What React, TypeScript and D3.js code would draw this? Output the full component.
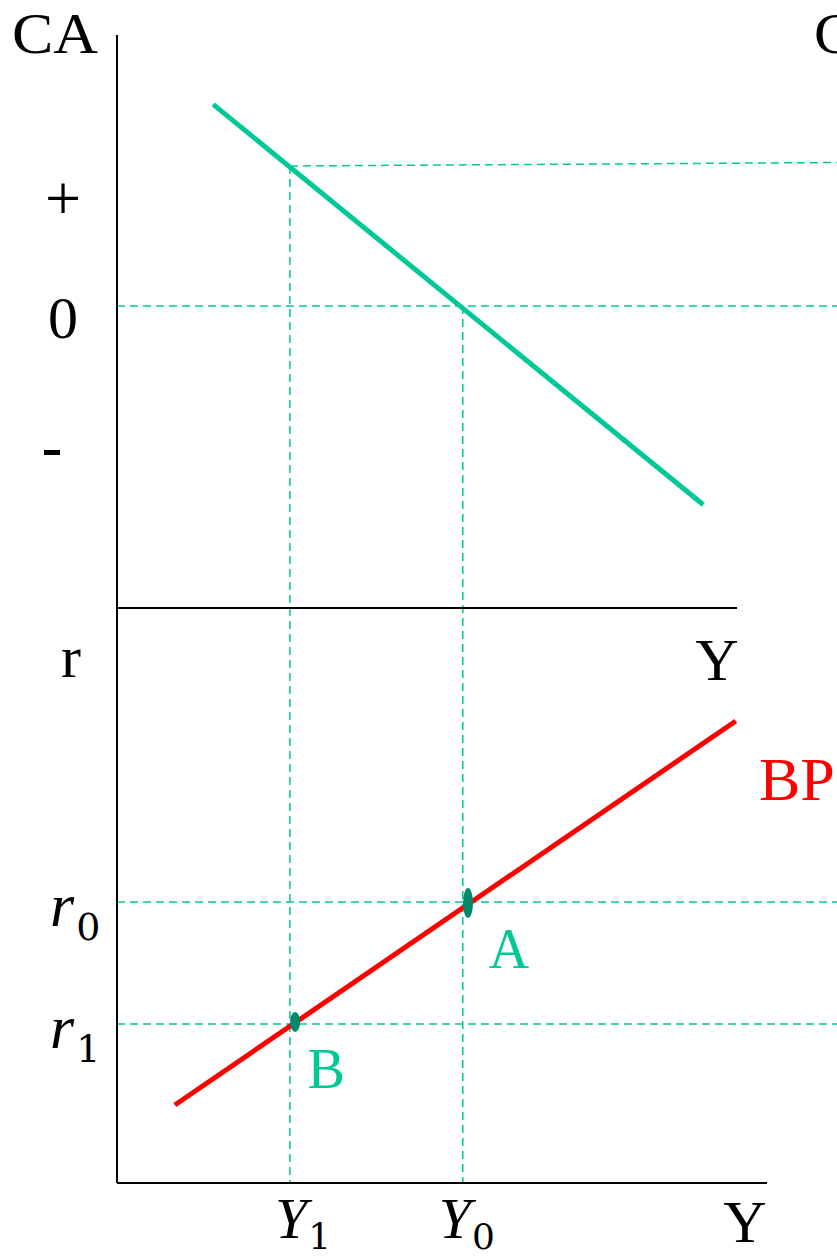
import React from "react";
import * as d3 from "d3";

// ---- data (abstract units) ----
const Y_LEVELS = [
  { name: "Y1", value: 26.6 },
  { name: "Y0", value: 53.2 },
];
const CA_TICKS = [
  { label: "+", value: 1 },
  { label: "0", value: 0 },
  { label: "-", value: -1 },
];
const CA_LINE = [
  { y: 14.8, ca: 1.44 },
  { y: 90.2, ca: -1.42 },
];
const R_LEVELS = [
  { name: "r0", value: 2.81 },
  { name: "r1", value: 1.59 },
];
const BP_LINE = [
  { y: 8.9, r: 0.78 },
  { y: 95.2, r: 4.62 },
];
const POINTS = [
  { label: "A", y: 54.0, r: 2.8, ry: 15 },
  { label: "B", y: 27.4, r: 1.61, ry: 10 },
];

const W = 837;
const H = 1260;
const TEAL = "#00C896";
const DARK_TEAL = "#00896A";
const SERIF = "'Liberation Serif', 'Times New Roman', serif";
const MATH = "'DejaVu Serif', serif";
const Y_LABEL_SHIFT: Record<string, number> = { Y1: -15, Y0: -24 };

export default function App() {
  const x = d3.scaleLinear().domain([0, 100]).range([117, 767]);
  const yCA = d3.scaleLinear().domain([0, 1]).range([306, 166]);
  const yR = d3.scaleLinear().domain([0, 1]).range([1183, 1083]);

  const xMax = x.invert(W + 2);
  const caTop = yCA.invert(35);
  const caAxis = yCA.invert(608);
  const topAxisEnd = x.invert(737);

  const caLine = d3
    .line<{ y: number; ca: number }>()
    .x((d) => x(d.y))
    .y((d) => yCA(d.ca));
  const bpLine = d3
    .line<{ y: number; r: number }>()
    .x((d) => x(d.y))
    .y((d) => yR(d.r));

  const dash = "8 5";
  const Y1 = Y_LEVELS[0].value;
  const Y0 = Y_LEVELS[1].value;

  return (
    <svg
      width={W}
      height={H}
      style={{ position: "absolute", left: 0, top: 0, background: "#fff" }}
    >
      <rect x={0} y={0} width={W} height={H} fill="#fff" />
      {/* dashed guides */}
      <g stroke={TEAL} strokeWidth={1.5} strokeDasharray={dash} fill="none">
        <line x1={x(Y1)} x2={x(xMax)} y1={yCA(1)} y2={yCA(1.025)} />
        <line x1={x(0)} x2={x(xMax)} y1={yCA(0)} y2={yCA(0)} />
        <line x1={x(Y1)} x2={x(Y1)} y1={yCA(1)} y2={yR(0)} />
        <line x1={x(Y0)} x2={x(Y0)} y1={yCA(0)} y2={yR(0)} />
        {R_LEVELS.map((d) => (
          <line key={d.name} x1={x(0)} x2={x(xMax)} y1={yR(d.value)} y2={yR(d.value)} />
        ))}
      </g>

      {/* axes */}
      <g stroke="#000" strokeWidth={2}>
        <line x1={x(0)} x2={x(0)} y1={yCA(caTop)} y2={yR(0)} />
        <line x1={x(0)} x2={x(topAxisEnd)} y1={yCA(caAxis)} y2={yCA(caAxis)} />
        <line x1={x(0)} x2={x(100)} y1={yR(0)} y2={yR(0)} />
      </g>

      {/* CA line */}
      <path d={caLine(CA_LINE) || ""} stroke={TEAL} strokeWidth={5} fill="none" />
      {/* BP line */}
      <path d={bpLine(BP_LINE) || ""} stroke="#FF0000" strokeWidth={5} fill="none" />

      {/* points */}
      {POINTS.map((p) => (
        <ellipse
          key={p.label}
          cx={x(p.y)}
          cy={yR(p.r)}
          rx={5}
          ry={p.ry}
          fill={DARK_TEAL}
        />
      ))}

      {/* upright labels */}
      <g fontFamily={SERIF} fill="#000">
        <text x={12} y={53} fontSize={57} textLength={86} lengthAdjust="spacingAndGlyphs">
          CA
        </text>
        <text x={814} y={53} fontSize={57} textLength={40} lengthAdjust="spacingAndGlyphs">
          C
        </text>
        {CA_TICKS.map((t) =>
          t.label === "-" ? (
            <rect key={t.label} x={44} y={yCA(t.value) + 4} width={16} height={5} fill="#000" />
          ) : (
            <text
              key={t.label}
              x={63}
              y={yCA(t.value) + (t.label === "+" ? 54 : 32)}
              fontSize={t.label === "+" ? 64 : 60}
              textAnchor="middle"
            >
              {t.label}
            </text>
          )
        )}
        <text x={71} y={677} fontSize={60} textAnchor="middle">
          r
        </text>
        <text x={717} y={680} fontSize={60} textAnchor="middle">
          Y
        </text>
        <text x={745} y={1242} fontSize={60} textAnchor="middle">
          Y
        </text>
        <text x={759} y={800} fontSize={62} fill="#FF0000">
          BP
        </text>
      </g>
      <g fontFamily={SERIF} fill={TEAL} fontSize={56}>
        {POINTS.map((p) => (
          <text
            key={p.label}
            x={x(p.y) + (p.label === "A" ? 41 : 31)}
            y={yR(p.r) + (p.label === "A" ? 65 : 66)}
            textAnchor="middle"
          >
            {p.label}
          </text>
        ))}
      </g>

      {/* math labels */}
      <g fill="#000">
        {R_LEVELS.map((d) => (
          <text key={d.name} x={50} y={yR(d.value) + 24} fontFamily={SERIF} fontStyle="italic" fontSize={62}>
            r
            <tspan fontFamily={MATH} fontStyle="normal" fontSize={38} dy={14} dx={2}>
              {d.name.slice(1)}
            </tspan>
          </text>
        ))}
        {Y_LEVELS.map((d) => (
          <text
            key={d.name}
            x={x(d.value) + Y_LABEL_SHIFT[d.name]}
            y={yR(0) + 55}
            fontFamily={SERIF}
            fontStyle="italic"
            fontSize={58}
          >
            Y
            <tspan fontFamily={MATH} fontStyle="normal" fontSize={36} dy={11} dx={1}>
              {d.name.slice(1)}
            </tspan>
          </text>
        ))}
      </g>
    </svg>
  );
}
